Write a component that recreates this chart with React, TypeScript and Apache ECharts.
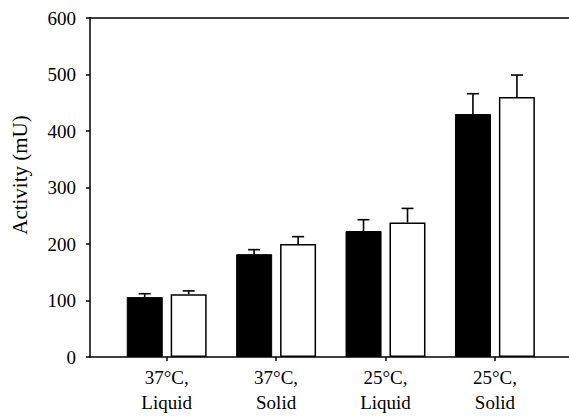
import React, { useEffect, useRef } from "react";
import * as echarts from "echarts";

const categories = ["37°C,\nLiquid", "37°C,\nSolid", "25°C,\nLiquid", "25°C,\nSolid"];
const positions = [1, 2, 3, 4];
const blackValues = [106, 182, 223, 430];
const blackErrors = [6, 8, 20, 36];
const whiteValues = [111, 200, 238, 460];
const whiteErrors = [6, 13, 25, 39];
const yTicks = { min: 0, max: 600, interval: 100 };

const FONT = "Times New Roman";
const BAR_W = 36;
const OFFSET = 22;

export default function App() {
  const ref = useRef<HTMLDivElement>(null);
  useEffect(() => {
    if (!ref.current) return;
    const chart = echarts.init(ref.current, null, { renderer: "svg" });
    const errSeries = (vals: number[], errs: number[], off: number) => ({
      type: "custom",
      xAxisIndex: 0,
      yAxisIndex: 0,
      z: 5,
      data: positions.map((p, i) => [p, vals[i], errs[i]]),
      renderItem: (params: any, api: any) => {
        const x = api.value(0);
        const v = api.value(1);
        const e = api.value(2);
        const base = api.coord([x, v]);
        const top = api.coord([x, v + e]);
        const cx = base[0] + off;
        const st = { stroke: "#000", lineWidth: 1.6, fill: "none" };
        return {
          type: "group",
          children: [
            { type: "line", shape: { x1: cx, y1: base[1], x2: cx, y2: top[1] }, style: st },
            { type: "line", shape: { x1: cx - 6, y1: top[1], x2: cx + 6, y2: top[1] }, style: st },
          ],
        };
      },
    });
    chart.setOption({
      animation: false,
      backgroundColor: "#fff",
      textStyle: { fontFamily: FONT },
      grid: { left: 90, right: 0, top: 18, bottom: 59 },
      xAxis: [
        {
          type: "value",
          min: 0.299,
          max: 4.677,
          position: "bottom",
          axisLine: { show: true, lineStyle: { color: "#000", width: 1.5 } },
          axisTick: { show: true, customValues: positions, length: 4, lineStyle: { color: "#000", width: 1.5 } },
          axisLabel: {
            customValues: positions,
            formatter: (v: number) => categories[Math.round(v) - 1] ?? "",
            color: "#000",
            fontFamily: FONT,
            fontSize: 19,
            lineHeight: 25,
            margin: 8,
          },
          splitLine: { show: false },
        },
        {
          type: "value",
          min: 0.299,
          max: 4.677,
          position: "top",
          axisLine: { show: true, lineStyle: { color: "#000", width: 1.5 } },
          axisTick: { show: false },
          axisLabel: { show: false },
          splitLine: { show: false },
        },
      ],
      yAxis: {
        type: "value",
        min: yTicks.min,
        max: yTicks.max,
        interval: yTicks.interval,
        name: "Activity (mU)",
        nameLocation: "middle",
        nameGap: 60,
        nameTextStyle: { color: "#000", fontFamily: FONT, fontSize: 21, padding: [0, 0, 0, 25] },
        axisLine: { show: true, lineStyle: { color: "#000", width: 1.5 } },
        axisTick: { show: true, length: 4, lineStyle: { color: "#000", width: 1.5 } },
        axisLabel: { color: "#000", fontFamily: FONT, fontSize: 19, margin: 14 },
        splitLine: { show: false },
      },
      series: [
        {
          type: "bar",
          xAxisIndex: 0,
          data: positions.map((p, i) => [p, blackValues[i]]),
          barWidth: BAR_W,
          barGap: "22%",
          itemStyle: { color: "#000", borderColor: "#000", borderWidth: 1 },
        },
        {
          type: "bar",
          xAxisIndex: 0,
          data: positions.map((p, i) => [p, whiteValues[i]]),
          barWidth: BAR_W,
          barGap: "22%",
          itemStyle: { color: "#fff", borderColor: "#000", borderWidth: 1.5 },
        },
        errSeries(blackValues, blackErrors, -OFFSET),
        errSeries(whiteValues, whiteErrors, OFFSET),
      ],
    });
    return () => chart.dispose();
  }, []);
  return (
    <div
      ref={ref}
      style={{ position: "absolute", left: 0, top: 0, width: 569, height: 416 }}
    />
  );
}
